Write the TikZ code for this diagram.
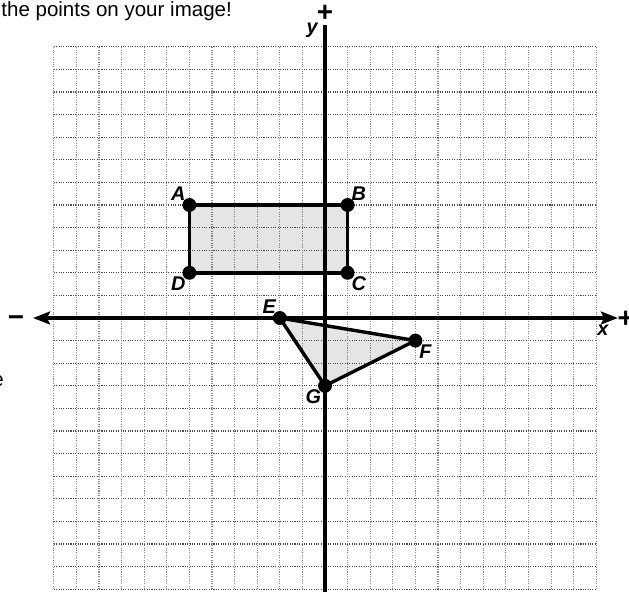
\documentclass[tikz,border=0pt]{standalone}
\usepackage{fontspec}
\setmainfont{Liberation Sans}
\usetikzlibrary{positioning,arrows.meta}

\begin{document}
\begin{tikzpicture}[x=0.6cm,y=0.6cm,font=\fontsize{15.5}{18}\selectfont]
	% --- Marco: 1 unidad = 1 casilla ---
	\useasboundingbox (-14.38,-12.12) rectangle (13.45,14.07);
	\tikzset{
		gridh/.style={black!70, densely dotted, line width=0.8pt},
		gridv/.style={black!45, densely dotted, line width=0.8pt},
		axis/.style={line width=2.6pt, {Stealth[length=0.45cm,width=0.34cm,inset=0.08cm]}-{Stealth[length=0.45cm,width=0.34cm,inset=0.08cm]}},
		side/.style={line width=2.6pt, line join=round},
		shade/.style={fill=black, fill opacity=0.1},
		pt/.style={circle, fill=black, inner sep=0pt, minimum size=0.37cm},
		lab/.style={inner sep=1pt, font=\fontsize{15}{17}\selectfont\bfseries\itshape},
		sign/.style={inner sep=0pt, font=\fontsize{21}{23}\selectfont\bfseries}
	}

	% Texto recortado
	\node[anchor=base west, inner sep=0pt] (title) at (-14.33,13.36) {the points on your image!};
	\node[anchor=base east, inner sep=0pt] (cut) at (-14.2,-3.05) {e};

	% --- Rejilla ---
	\foreach \y in {-12,...,12} \draw[gridh] (-12,\y) -- (12,\y);
	\foreach \x in {-12,...,12} \draw[gridv] (\x,-12) -- (\x,12);

	% --- Puntos ---
	\foreach \p/\x/\y in {A/-6/5, B/1/5, C/1/2, D/-6/2, E/-2/0, F/4/-1, G/0/-3}
		\coordinate (\p0) at (\x,\y);

	% Rellenos
	\fill[shade] (A0) -- (B0) -- (C0) -- (D0) -- cycle;
	\fill[shade] (E0) -- (F0) -- (G0) -- cycle;

	% --- Ejes ---
	\coordinate (xl) at (-12.92,0);
	\coordinate (xr) at (12.96,0);
	\coordinate (yb) at (0,-12.3);
	\coordinate (yt) at (0,12.96);
	\draw[axis] (xl) -- (xr);
	\draw[axis, {-}] (yb) -- (yt);
	\node[sign] (minus) at (-13.67,-0.12) {\char"2212};
	\node[sign] (plusx) at (13.3,-0.08) {+};
	\node[sign] (plusy) at (0,13.5) {+};
	\node[lab] (xlab) at (12.3,-0.53) {x};
	\node[lab] (ylab) at (-0.57,12.74) {y};

	% --- Figuras ---
	\draw[side] (A0) -- (B0) -- (C0) -- (D0) -- cycle;
	\draw[side] (E0) -- (F0) -- (G0) -- cycle;
	\foreach \p in {A,B,C,D,E,F,G}
		\node[pt] (\p) at (\p0) {};

	% Etiquetas
	\node[lab, above left=-2pt and -2pt of A] (Alab) {A};
	\node[lab, above right=-2pt and -2pt of B] (Blab) {B};
	\node[lab, below right=-2pt and -2pt of C] (Clab) {C};
	\node[lab, below left=-2pt and -2pt of D] (Dlab) {D};
	\node[lab, above left=-2pt and -2pt of E] (Elab) {E};
	\node[lab, below right=-2pt and -2pt of F] (Flab) {F};
	\node[lab, below left=-2pt and -2pt of G] (Glab) {G};
\end{tikzpicture}
\end{document}
